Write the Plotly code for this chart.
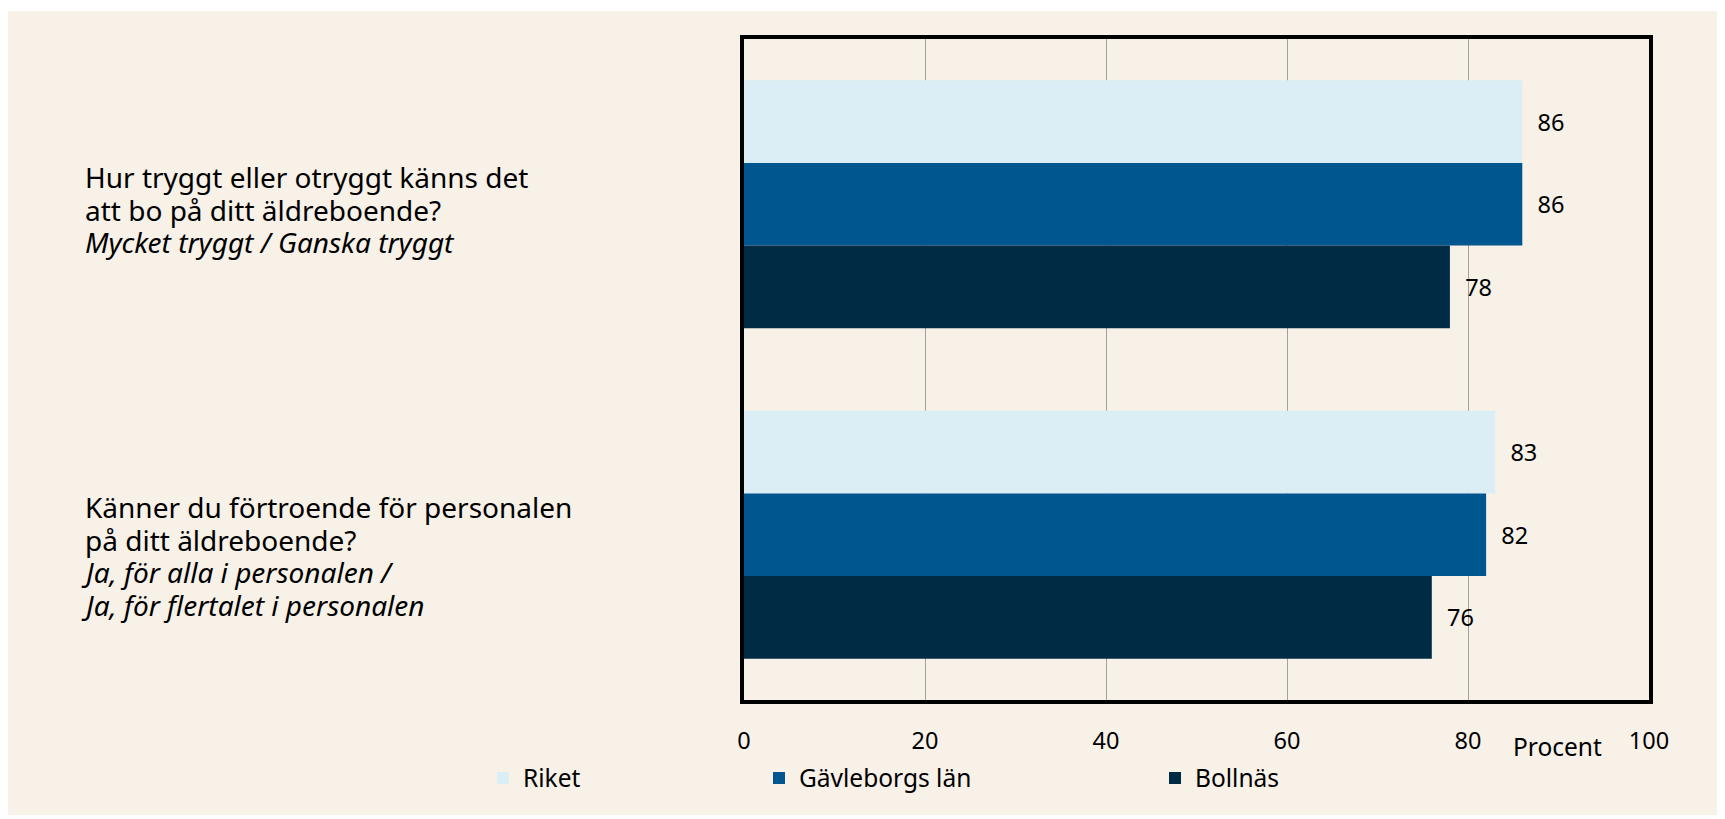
import plotly.graph_objects as go

# ---- data ----
categories = [
    "Hur tryggt eller otryggt känns det att bo på ditt äldreboende? Mycket tryggt / Ganska tryggt",
    "Känner du förtroende för personalen på ditt äldreboende? Ja, för alla i personalen / Ja, för flertalet i personalen",
]
question_lines = [
    ["Hur tryggt eller otryggt känns det", "att bo på ditt äldreboende?"],
    ["Känner du förtroende för personalen", "på ditt äldreboende?"],
]
answer_lines = [
    ["Mycket tryggt / Ganska tryggt"],
    ["Ja, för alla i personalen /", "Ja, för flertalet i personalen"],
]
series_names = ["Riket", "Gävleborgs län", "Bollnäs"]
riket = [86, 83]
gavleborg = [86, 82]
bollnas = [78, 76]
x_ticks = [0, 20, 40, 60, 80, 100]
x_title = "Procent"

colors = ["#DBEEF5", "#00578F", "#002B45"]
FONT = "Noto Sans"

# ---- layout geometry ----
OFF = 8  # page body margin
W, H = 1725 - OFF, 811
ML, MR, MT, MB = 736, 76, 31, 119
PW, PH = W - ML - MR, H - MT - MB


def px_x(page_x):
    return (page_x - OFF - ML) / PW


def px_y(page_y):
    return (H - MB - (page_y - OFF)) / PH


fig = go.Figure()
legend_ids = ["legend", "legend2", "legend3"]
for name, vals, col, lg in zip(series_names, [riket, gavleborg, bollnas], colors, legend_ids):
    fig.add_trace(go.Bar(
        y=categories, x=vals, name=name, orientation="h",
        marker=dict(color=col, line=dict(width=0)),
        text=vals, texttemplate="\u00a0\u00a0%{x}", textposition="outside",
        textfont=dict(family=FONT, size=23.5, color="#000000"),
        constraintext="none", cliponaxis=False,
        legend=lg, hoverinfo="x+name",
    ))

annotations = []
group_first_baselines = [188, 518]
line_step = 32.7
fs_q = 28
for gi in range(len(categories)):
    lines = [(t, False) for t in question_lines[gi]] + [(t, True) for t in answer_lines[gi]]
    for li, (txt, ital) in enumerate(lines):
        baseline = group_first_baselines[gi] + li * line_step
        cy = baseline - 0.39 * fs_q
        xs = -4 if txt.startswith("J") else 0
        annotations.append(dict(
            xref="paper", yref="paper", x=px_x(83), y=px_y(cy), xshift=xs,
            xanchor="left", yanchor="middle", showarrow=False,
            text=f"<i>{txt}</i>" if ital else txt,
            font=dict(family=FONT, size=fs_q, color="#000000"),
        ))

annotations.append(dict(
    xref="paper", yref="paper", x=px_x(1557), y=px_y(746),
    xanchor="center", yanchor="middle", showarrow=False, text=x_title,
    font=dict(family=FONT, size=24.5, color="#000000"),
))

shapes = [dict(
    type="rect", xref="paper", yref="paper", layer="below",
    x0=px_x(8), x1=px_x(1730), y0=px_y(815), y1=px_y(11),
    fillcolor="#F7F1E8", line=dict(width=0),
)]

legend_common = dict(
    orientation="h", xref="container", yref="container",
    xanchor="left", yanchor="middle", bgcolor="rgba(0,0,0,0)",
    font=dict(family=FONT, size=24.5, color="#000000"),
    borderwidth=0,
)
legend_x = [483, 759, 1155]
leg_y = 1 - (778 - OFF) / H

fig.update_layout(
    width=W, height=H,
    margin=dict(l=ML, r=MR, t=MT, b=MB, pad=0, autoexpand=False),
    paper_bgcolor="#FFFFFF", plot_bgcolor="#FFFFFF",
    barmode="group", bargap=0.25, bargroupgap=0,
    font=dict(family=FONT, size=23.5, color="#000000"),
    showlegend=True,
    legend=dict(**legend_common, x=(legend_x[0] - OFF) / W, y=leg_y),
    legend2=dict(**legend_common, x=(legend_x[1] - OFF) / W, y=leg_y),
    legend3=dict(**legend_common, x=(legend_x[2] - OFF) / W, y=leg_y),
    annotations=annotations, shapes=shapes,
    xaxis=dict(
        range=[0, 100], tickvals=x_ticks, ticktext=[str(t) for t in x_ticks],
        showgrid=True, gridcolor="#A0A0A0", gridwidth=1,
        showline=True, linecolor="#000000", linewidth=4, mirror=True,
        zeroline=False, ticks="", ticklabelstandoff=17, automargin=False,
        tickfont=dict(family=FONT, size=23.5, color="#000000"),
        fixedrange=True,
    ),
    yaxis=dict(
        autorange="reversed", showticklabels=False, showgrid=False,
        showline=True, linecolor="#000000", linewidth=4, mirror=True,
        zeroline=False, ticks="", fixedrange=True, automargin=False,
    ),
)

fig.write_html("out.html")
